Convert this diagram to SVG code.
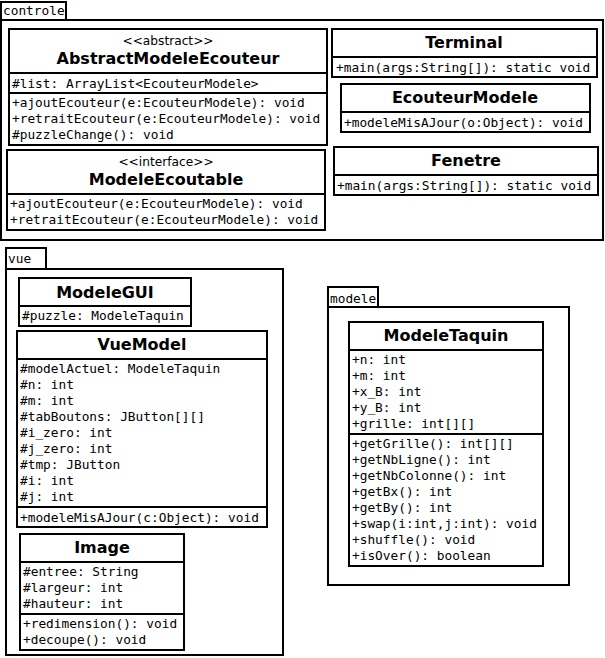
<svg xmlns="http://www.w3.org/2000/svg" width="605" height="658" viewBox="0 0 605 658">
<style>
.pk{fill:#fff;stroke:#000;stroke-width:2}
.bx{fill:#fff;stroke:#000;stroke-width:2}
.ln{stroke:#000;stroke-width:2}
.m{font-family:"DejaVu Sans Mono","Liberation Mono",monospace;font-size:12.8px;fill:#000}
.t{font-family:"DejaVu Sans","Liberation Sans",sans-serif;font-size:16px;font-weight:bold;fill:#000;text-anchor:middle}
.s{font-family:"DejaVu Sans","Liberation Sans",sans-serif;font-size:12.2px;fill:#000;text-anchor:middle}
</style>
<rect width="605" height="658" fill="#fff"/>
<g id="pkg-controle">
<rect class="pk" x="1" y="2" width="65" height="18"/>
<rect class="pk" x="1" y="20" width="602" height="220"/>
<text class="m" x="3" y="15">controle</text>
</g>
<g id="pkg-vue">
<rect class="pk" x="6" y="248" width="40" height="21"/>
<rect class="pk" x="6" y="269" width="277" height="386"/>
<text class="m" x="8" y="263">vue</text>
</g>
<g id="pkg-modele">
<rect class="pk" x="328" y="287" width="50" height="20"/>
<rect class="pk" x="328" y="307" width="241" height="278"/>
<text class="m" x="330" y="303">modele</text>
</g>
<g id="AbstractModeleEcouteur">
<rect class="bx" x="9" y="29" width="318" height="116"/>
<line class="ln" x1="9" y1="73" x2="327" y2="73"/>
<line class="ln" x1="9" y1="93" x2="327" y2="93"/>
<text class="s" x="168" y="45">&lt;&lt;abstract&gt;&gt;</text>
<text class="t" x="168" y="64">AbstractModeleEcouteur</text>
<text class="m" x="12" y="88">#list: ArrayList&lt;EcouteurModele&gt;</text>
<text class="m" x="12" y="107">+ajoutEcouteur(e:EcouteurModele): void</text>
<text class="m" x="12" y="123">+retraitEcouteur(e:EcouteurModele): void</text>
<text class="m" x="12" y="139">#puzzleChange(): void</text>
</g>
<g id="ModeleEcoutable">
<rect class="bx" x="7" y="150" width="318" height="80"/>
<line class="ln" x1="7" y1="194" x2="325" y2="194"/>
<text class="s" x="166" y="166">&lt;&lt;interface&gt;&gt;</text>
<text class="t" x="166" y="185">ModeleEcoutable</text>
<text class="m" x="10" y="208">+ajoutEcouteur(e:EcouteurModele): void</text>
<text class="m" x="10" y="224">+retraitEcouteur(e:EcouteurModele): void</text>
</g>
<g id="Terminal">
<rect class="bx" x="332" y="29" width="265" height="48"/>
<line class="ln" x1="332" y1="57" x2="597" y2="57"/>
<text class="t" x="464" y="48">Terminal</text>
<text class="m" x="336" y="72">+main(args:String[]): static void</text>
</g>
<g id="EcouteurModele">
<rect class="bx" x="341" y="84" width="249" height="48"/>
<line class="ln" x1="341" y1="112" x2="590" y2="112"/>
<text class="t" x="465" y="103">EcouteurModele</text>
<text class="m" x="344" y="127">+modeleMisAJour(o:Object): void</text>
</g>
<g id="Fenetre">
<rect class="bx" x="334" y="147" width="264" height="48"/>
<line class="ln" x1="334" y1="175" x2="598" y2="175"/>
<text class="t" x="466" y="166">Fenetre</text>
<text class="m" x="337" y="190">+main(args:String[]): static void</text>
</g>
<g id="ModeleGUI">
<rect class="bx" x="19" y="278" width="172" height="48"/>
<line class="ln" x1="19" y1="306" x2="191" y2="306"/>
<text class="t" x="105" y="298">ModeleGUI</text>
<text class="m" x="22" y="320">#puzzle: ModeleTaquin</text>
</g>
<g id="VueModel">
<rect class="bx" x="17" y="331" width="250" height="196"/>
<line class="ln" x1="17" y1="359" x2="267" y2="359"/>
<line class="ln" x1="17" y1="507" x2="267" y2="507"/>
<text class="t" x="142" y="350">VueModel</text>
<text class="m" x="20" y="373">#modelActuel: ModeleTaquin</text>
<text class="m" x="20" y="389">#n: int</text>
<text class="m" x="20" y="405">#m: int</text>
<text class="m" x="20" y="421">#tabBoutons: JButton[][]</text>
<text class="m" x="20" y="437">#i_zero: int</text>
<text class="m" x="20" y="453">#j_zero: int</text>
<text class="m" x="20" y="469">#tmp: JButton</text>
<text class="m" x="20" y="485">#i: int</text>
<text class="m" x="20" y="501">#j: int</text>
<text class="m" x="20" y="522">+modeleMisAJour(c:Object): void</text>
</g>
<g id="Image">
<rect class="bx" x="20" y="534" width="164" height="116"/>
<line class="ln" x1="20" y1="562" x2="184" y2="562"/>
<line class="ln" x1="20" y1="614" x2="184" y2="614"/>
<text class="t" x="102" y="553">Image</text>
<text class="m" x="23" y="576">#entree: String</text>
<text class="m" x="23" y="592">#largeur: int</text>
<text class="m" x="23" y="608">#hauteur: int</text>
<text class="m" x="23" y="628">+redimension(): void</text>
<text class="m" x="23" y="644">+decoupe(): void</text>
</g>
<g id="ModeleTaquin">
<rect class="bx" x="349" y="322" width="194" height="244"/>
<line class="ln" x1="349" y1="350" x2="543" y2="350"/>
<line class="ln" x1="349" y1="434" x2="543" y2="434"/>
<text class="t" x="446" y="341">ModeleTaquin</text>
<text class="m" x="352" y="364">+n: int</text>
<text class="m" x="352" y="380">+m: int</text>
<text class="m" x="352" y="396">+x_B: int</text>
<text class="m" x="352" y="412">+y_B: int</text>
<text class="m" x="352" y="428">+grille: int[][]</text>
<text class="m" x="352" y="448">+getGrille(): int[][]</text>
<text class="m" x="352" y="464">+getNbLigne(): int</text>
<text class="m" x="352" y="480">+getNbColonne(): int</text>
<text class="m" x="352" y="496">+getBx(): int</text>
<text class="m" x="352" y="512">+getBy(): int</text>
<text class="m" x="352" y="528">+swap(i:int,j:int): void</text>
<text class="m" x="352" y="544">+shuffle(): void</text>
<text class="m" x="352" y="560">+isOver(): boolean</text>
</g>
<g id="connectors"></g>
</svg>
